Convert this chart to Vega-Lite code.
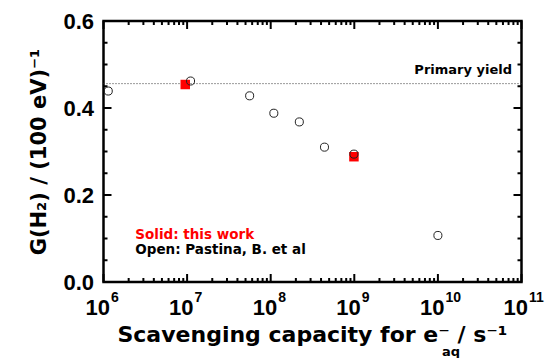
{
  "$schema": "https://vega.github.io/schema/vega-lite/v6.json",
  "width": 418,
  "height": 261,
  "autosize": {"type": "none"},
  "padding": {"left": 103.5, "top": 21, "right": 27, "bottom": 76},
  "config": {
    "view": {"stroke": "black", "strokeWidth": 2.5},
    "scale": {"continuousPadding": 0},
    "axis": {"grid": false, "domain": false, "ticks": false, "tickSize": 0, "labelColor": "black", "titleColor": "black"}
  },
  "datasets": {
    "pastina": [
      {"capacity": 1.14e6, "g": 0.439},
      {"capacity": 1.1e7, "g": 0.462},
      {"capacity": 5.6e7, "g": 0.428},
      {"capacity": 1.09e8, "g": 0.388},
      {"capacity": 2.2e8, "g": 0.368},
      {"capacity": 4.4e8, "g": 0.31},
      {"capacity": 9.9e8, "g": 0.294},
      {"capacity": 1.0e10, "g": 0.107}
    ],
    "thiswork": [
      {"capacity": 9.5e6, "g": 0.454},
      {"capacity": 9.9e8, "g": 0.288}
    ],
    "xmajor": [{"v": 1e6}, {"v": 1e7}, {"v": 1e8}, {"v": 1e9}, {"v": 1e10}, {"v": 1e11}],
    "xminor": [{"v": 2e6}, {"v": 3e6}, {"v": 4e6}, {"v": 5e6}, {"v": 6e6}, {"v": 7e6}, {"v": 8e6}, {"v": 9e6},
      {"v": 2e7}, {"v": 3e7}, {"v": 4e7}, {"v": 5e7}, {"v": 6e7}, {"v": 7e7}, {"v": 8e7}, {"v": 9e7},
      {"v": 2e8}, {"v": 3e8}, {"v": 4e8}, {"v": 5e8}, {"v": 6e8}, {"v": 7e8}, {"v": 8e8}, {"v": 9e8},
      {"v": 2e9}, {"v": 3e9}, {"v": 4e9}, {"v": 5e9}, {"v": 6e9}, {"v": 7e9}, {"v": 8e9}, {"v": 9e9},
      {"v": 2e10}, {"v": 3e10}, {"v": 4e10}, {"v": 5e10}, {"v": 6e10}, {"v": 7e10}, {"v": 8e10}, {"v": 9e10}],
    "ymajor": [{"v": 0}, {"v": 0.2}, {"v": 0.4}, {"v": 0.6}],
    "yminor": [{"v": 0.05}, {"v": 0.1}, {"v": 0.15}, {"v": 0.25}, {"v": 0.3}, {"v": 0.35}, {"v": 0.45}, {"v": 0.5}, {"v": 0.55}],
    "one": [{}]
  },
  "layer": [
    {
      "data": {"name": "xmajor"},
      "mark": {"type": "bar", "color": "#000000", "size": 2, "opacity": 1},
      "encoding": {
        "x": {"field": "v", "type": "quantitative", "scale": {"type": "log", "domain": [1e6, 1e11], "nice": false, "padding": 0}, "axis": null},
        "y": {"datum": 0, "type": "quantitative", "scale": {"domain": [0, 0.6], "nice": false, "zero": false, "padding": 0}, "axis": null},
        "y2": {"datum": 0.0184}
      }
    },
    {
      "data": {"name": "xmajor"},
      "mark": {"type": "bar", "color": "#000000", "size": 2, "opacity": 1},
      "encoding": {
        "x": {"field": "v", "type": "quantitative", "axis": null},
        "y": {"datum": 0.5816, "type": "quantitative", "axis": null},
        "y2": {"datum": 0.6}
      }
    },
    {
      "data": {"name": "xminor"},
      "mark": {"type": "bar", "color": "#000000", "size": 2, "opacity": 1},
      "encoding": {
        "x": {"field": "v", "type": "quantitative", "axis": null},
        "y": {"datum": 0, "type": "quantitative", "axis": null},
        "y2": {"datum": 0.0092}
      }
    },
    {
      "data": {"name": "xminor"},
      "mark": {"type": "bar", "color": "#000000", "size": 2, "opacity": 1},
      "encoding": {
        "x": {"field": "v", "type": "quantitative", "axis": null},
        "y": {"datum": 0.5908, "type": "quantitative", "axis": null},
        "y2": {"datum": 0.6}
      }
    },
    {
      "data": {"name": "ymajor"},
      "mark": {"type": "bar", "color": "#000000", "size": 2, "opacity": 1, "orient": "horizontal"},
      "encoding": {
        "y": {"field": "v", "type": "quantitative", "axis": null},
        "x": {"datum": 1e6, "type": "quantitative", "axis": null},
        "x2": {"datum": 1.2466e6}
      }
    },
    {
      "data": {"name": "ymajor"},
      "mark": {"type": "bar", "color": "#000000", "size": 2, "opacity": 1, "orient": "horizontal"},
      "encoding": {
        "y": {"field": "v", "type": "quantitative", "axis": null},
        "x": {"datum": 8.022e10, "type": "quantitative", "axis": null},
        "x2": {"datum": 1e11}
      }
    },
    {
      "data": {"name": "yminor"},
      "mark": {"type": "bar", "color": "#000000", "size": 2, "opacity": 1, "orient": "horizontal"},
      "encoding": {
        "y": {"field": "v", "type": "quantitative", "axis": null},
        "x": {"datum": 1e6, "type": "quantitative", "axis": null},
        "x2": {"datum": 1.1165e6}
      }
    },
    {
      "data": {"name": "yminor"},
      "mark": {"type": "bar", "color": "#000000", "size": 2, "opacity": 1, "orient": "horizontal"},
      "encoding": {
        "y": {"field": "v", "type": "quantitative", "axis": null},
        "x": {"datum": 8.957e10, "type": "quantitative", "axis": null},
        "x2": {"datum": 1e11}
      }
    },
    {
      "data": {"name": "one"},
      "mark": {"type": "rule", "strokeDash": [1, 2], "color": "#333333", "strokeWidth": 1},
      "encoding": {"y": {"datum": 0.456, "type": "quantitative", "axis": null}}
    },
    {
      "data": {"name": "thiswork"},
      "mark": {"type": "square", "filled": true, "color": "#ff0000", "size": 90, "opacity": 1},
      "encoding": {
        "x": {"field": "capacity", "type": "quantitative", "axis": null},
        "y": {"field": "g", "type": "quantitative", "axis": null}
      }
    },
    {
      "data": {"name": "pastina"},
      "mark": {"type": "point", "shape": "circle", "filled": false, "stroke": "#222222", "strokeWidth": 1, "size": 65, "opacity": 1},
      "encoding": {
        "x": {"field": "capacity", "type": "quantitative",
          "axis": {"orient": "bottom",
            "values": [1e6, 1e7, 1e8, 1e9, 1e10, 1e11],
            "labelExpr": "'10'",
            "labelFont": "Liberation Sans", "labelFontWeight": "bold", "labelFontSize": 22,
            "labelAlign": "right", "labelBaseline": "top", "labelOffset": 6, "labelPadding": 15.7,
            "labelFlush": false, "labelOverlap": false, "labelBound": false,
            "title": "Scavenging capacity for e⁻   / s⁻¹",
            "titleFont": "DejaVu Sans", "titleFontWeight": "bold", "titleFontSize": 22,
            "titleX": 208.5, "titleY": 59.5, "titleAlign": "center", "titleBaseline": "alphabetic"}},
        "y": {"field": "g", "type": "quantitative",
          "axis": {"orient": "left",
            "values": [0, 0.2, 0.4, 0.6],
            "format": ".1f",
            "labelFont": "Liberation Sans", "labelFontWeight": "bold", "labelFontSize": 22,
            "labelPadding": 10, "labelOverlap": false, "labelFlush": false,
            "title": "G(H₂) / (100 eV)⁻¹",
            "titleFont": "DejaVu Sans", "titleFontWeight": "bold", "titleFontSize": 21,
            "titleAngle": -90, "titleX": -58, "titleY": 130.5, "titleAlign": "center", "titleBaseline": "alphabetic"}}
      }
    },
    {
      "data": {"name": "pastina"},
      "mark": {"type": "point", "opacity": 0},
      "encoding": {
        "x": {"field": "capacity", "type": "quantitative",
          "axis": {"orient": "bottom",
            "values": [1e6, 1e7, 1e8, 1e9, 1e10, 1e11],
            "labelExpr": "format(round(log(datum.value)/LN10), 'd')",
            "labelFont": "Liberation Sans", "labelFontWeight": "bold", "labelFontSize": 14,
            "labelAlign": "left", "labelBaseline": "top", "labelOffset": 7, "labelPadding": 8.7,
            "labelFlush": false, "labelOverlap": false, "labelBound": false,
            "title": "aq", "titleFont": "DejaVu Sans", "titleFontWeight": "bold", "titleFontSize": 13,
            "titleX": 347, "titleY": 73, "titleAlign": "center", "titleBaseline": "alphabetic"}},
        "y": {"field": "g", "type": "quantitative", "axis": null}
      }
    },
    {
      "data": {"name": "one"},
      "mark": {"type": "text", "text": "Primary yield", "font": "DejaVu Sans", "fontWeight": "bold", "fontSize": 13, "align": "right", "baseline": "alphabetic", "color": "black"},
      "encoding": {
        "x": {"datum": 7.7e10, "type": "quantitative", "axis": null},
        "y": {"datum": 0.478, "type": "quantitative", "axis": null}
      }
    },
    {
      "data": {"name": "one"},
      "mark": {"type": "text", "text": "Solid: this work", "font": "DejaVu Sans", "fontWeight": "bold", "fontSize": 13.5, "align": "left", "baseline": "alphabetic", "color": "#ff0000"},
      "encoding": {
        "x": {"datum": 2.4e6, "type": "quantitative", "axis": null},
        "y": {"datum": 0.0993, "type": "quantitative", "axis": null}
      }
    },
    {
      "data": {"name": "one"},
      "mark": {"type": "text", "text": "Open: Pastina, B. et al", "font": "DejaVu Sans", "fontWeight": "bold", "fontSize": 13.5, "align": "left", "baseline": "alphabetic", "color": "black"},
      "encoding": {
        "x": {"datum": 2.4e6, "type": "quantitative", "axis": null},
        "y": {"datum": 0.065, "type": "quantitative", "axis": null}
      }
    }
  ],
  "resolve": {"axis": {"x": "independent", "y": "independent"}}
}
